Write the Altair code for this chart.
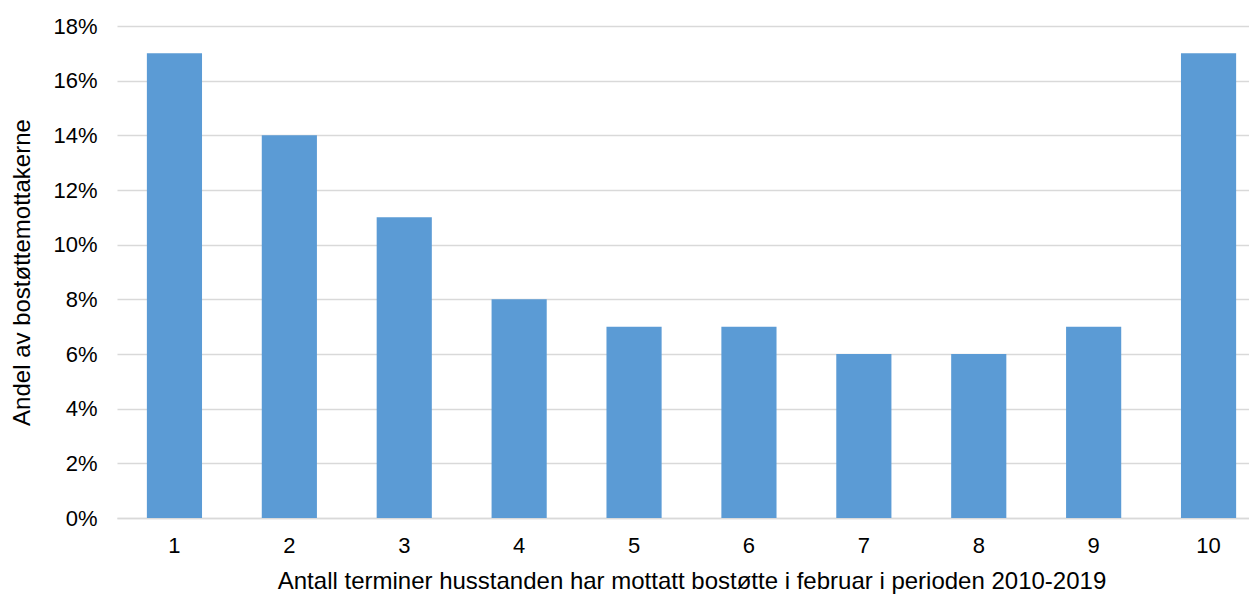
import altair as alt
import pandas as pd

categories = ["1", "2", "3", "4", "5", "6", "7", "8", "9", "10"]
shares = [0.17, 0.14, 0.11, 0.08, 0.07, 0.07, 0.06, 0.06, 0.07, 0.17]

df = pd.DataFrame({"kat": categories, "andel": shares})

FONT = "Liberation Sans"

chart = alt.Chart(df).mark_bar(color="#5b9bd5").encode(
    x=alt.X("kat:N", sort=categories,
            scale=alt.Scale(paddingInner=0.52, paddingOuter=0.26, range=[0, 1149]),
            axis=alt.Axis(title="Antall terminer husstanden har mottatt bostøtte i februar i perioden 2010-2019",
                          labelAngle=0, labelFontSize=22, titleFontSize=24, labelColor="#000000",
                          titleColor="#000000", titleFontWeight="normal", ticks=False,
                          domainColor="#d9d9d9", domainWidth=1.5, labelPadding=17,
                          titleX=574.5, titleY=70, titleBaseline="alphabetic",
                          titleAnchor="middle", grid=False)),
    y=alt.Y("andel:Q", scale=alt.Scale(domain=[0, 0.18], nice=False),
            axis=alt.Axis(title="Andel av bostøttemottakerne", format=".0%",
                          values=[0, 0.02, 0.04, 0.06, 0.08, 0.10, 0.12, 0.14, 0.16, 0.18],
                          labelFontSize=22, titleFontSize=24, labelColor="#000000",
                          titleColor="#000000", titleFontWeight="normal", ticks=False,
                          domain=False, gridColor="#d9d9d9", gridWidth=1.5,
                          labelPadding=20, titlePadding=18)),
).properties(
    width=1132, height=492,
    autosize=alt.AutoSizeParams(type="none"),
    padding={"left": 109, "top": 18, "right": 0, "bottom": 76},
).configure(font=FONT).configure_view(stroke=None)

chart.save("out.html", embed_options={"renderer": "svg", "actions": False})
